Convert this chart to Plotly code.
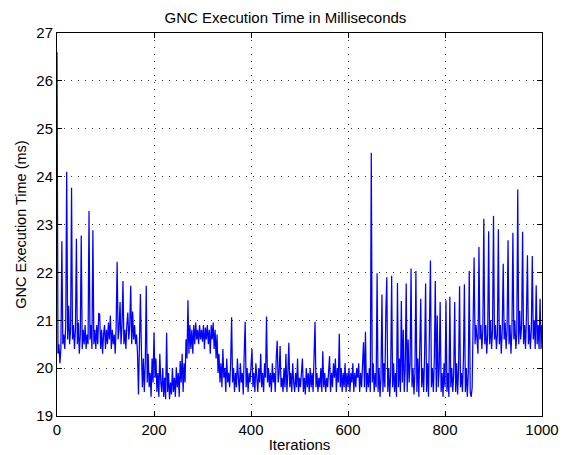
import plotly.graph_objects as go

iterations = list(range(0, 1001, 2))

exec_ms = [
    26.6, 20.3, 20.5, 20.1, 20.4, 22.65, 20.5, 20.7, 20.4, 20.9, 24.1, 20.6, 21.3, 20.5, 20.8, 23.77, 20.6, 20.9, 20.4, 20.8,
    22.7, 20.5, 20.95, 20.3, 20.7, 22.77, 20.4, 20.8, 20.5, 20.9, 20.4, 20.7, 20.5, 23.28, 20.6, 20.9, 20.4, 22.88, 20.5, 20.8,
    20.4, 20.9, 20.5, 21.14, 21.13, 20.4, 20.8, 20.3, 20.7, 20.9, 20.4, 20.8, 20.5, 20.95, 20.6, 21.1, 20.4, 20.8, 20.5, 20.7,
    20.3, 20.9, 22.22, 20.6, 20.8, 21.38, 20.5, 20.9, 21.82, 20.5, 20.8, 20.4, 20.9, 21.16, 20.6, 20.9, 21.72, 20.5, 21.18, 20.6,
    20.9, 20.5, 20.7, 20.3, 19.45, 20.9, 21.55, 20.4, 19.6, 20.2, 19.5, 20.1, 21.72, 19.7, 20.3, 19.6, 19.9, 19.4, 20.2, 19.7,
    20.75, 19.8, 20.2, 19.5, 19.9, 19.4, 20.3, 19.7, 19.5, 20.0, 19.4, 19.8, 19.35, 20.74, 19.5, 19.9, 19.35, 19.7, 19.45, 20.0,
    19.5, 19.8, 19.4, 20.02, 19.6, 19.9, 19.4, 20.15, 19.7, 20.3, 19.5, 20.1, 19.7, 20.6, 20.2, 21.42, 20.3, 20.9, 20.4, 20.8,
    20.3, 20.9, 20.5, 20.95, 20.6, 20.8, 20.5, 20.9, 20.6, 20.8, 20.55, 20.9, 20.4, 20.85, 20.6, 20.9, 20.5, 20.8, 20.3, 20.9,
    20.6, 20.95, 20.4, 20.8, 20.2, 20.7, 19.9, 20.3, 19.7, 20.1, 19.6, 20.4, 19.8, 20.0, 19.5, 20.2, 19.7, 19.9, 19.6, 20.1,
    21.06, 19.7, 20.0, 19.5, 19.9, 19.6, 20.2, 19.8, 19.5, 20.1, 19.7, 19.9, 19.45, 20.3, 20.97, 19.6, 20.0, 19.5, 19.9, 19.7,
    20.2, 20.4, 19.6, 19.9, 19.5, 20.1, 19.8, 19.5, 20.0, 19.7, 20.3, 19.6, 19.9, 19.5, 20.1, 19.8, 21.08, 19.7, 20.0, 19.6,
    19.9, 19.5, 20.1, 19.7, 19.9, 19.5, 20.2, 20.57, 19.7, 19.9, 20.46, 19.6, 19.8, 19.5, 20.0, 19.6, 20.3, 19.5, 19.9, 20.53,
    19.6, 19.9, 19.5, 20.1, 19.7, 19.5, 19.9, 19.6, 20.2, 19.5, 19.8, 19.6, 19.9, 20.2, 19.5, 19.8, 19.45, 20.0, 19.6, 19.9,
    19.5, 20.0, 19.6, 19.9, 19.5, 20.1, 20.97, 19.6, 19.9, 19.5, 19.8, 19.6, 20.0, 19.5, 20.35, 19.6, 19.9, 19.5, 19.8, 19.6,
    19.9, 20.25, 19.5, 19.9, 19.6, 20.1, 19.8, 20.2, 19.5, 20.0, 19.7, 20.72, 19.6, 20.0, 19.5, 19.9, 19.6, 20.1, 19.5, 19.9,
    19.6, 20.0, 19.5, 19.9, 19.7, 20.1, 19.5, 19.9, 19.6, 20.0, 19.8, 20.1, 19.5, 19.9, 19.6, 20.2, 20.54, 19.6, 20.76, 19.5,
    19.9, 19.6, 20.0, 19.5, 24.5, 19.7, 20.1, 19.5, 19.9, 19.6, 21.98, 19.5, 20.0, 19.4, 19.8, 21.54, 19.5, 20.1, 19.6, 21.16,
    21.9, 19.5, 20.0, 19.4, 19.9, 21.93, 19.6, 20.1, 19.5, 19.9, 19.4, 21.78, 19.6, 20.2, 19.5, 21.4, 19.7, 20.8, 19.5, 20.0,
    21.77, 19.5, 20.6, 19.7, 20.1, 22.08, 19.6, 20.0, 19.45, 19.9, 22.03, 19.5, 20.2, 19.4, 20.4, 21.45, 19.6, 20.0, 19.5, 20.3,
    21.77, 19.5, 20.1, 19.4, 20.9, 22.25, 19.6, 20.0, 19.5, 20.2, 21.82, 19.5, 21.1, 19.6, 20.0, 21.38, 19.5, 19.9, 19.4, 20.1,
    19.6, 21.42, 19.5, 19.9, 19.4, 21.49, 19.6, 20.0, 19.5, 19.9, 21.38, 19.5, 20.1, 19.45, 20.0, 21.71, 19.6, 19.9, 19.5, 20.2,
    21.75, 19.5, 20.0, 19.4, 19.9, 22.03, 19.5, 19.4, 19.6, 20.8, 22.31, 20.5, 20.9, 20.6, 20.3, 22.53, 20.6, 20.9, 20.4, 20.8,
    23.12, 20.5, 20.9, 20.3, 20.7, 22.86, 20.5, 21.0, 20.4, 20.8, 23.18, 20.6, 20.9, 20.4, 20.7, 22.9, 20.5, 20.9, 20.3, 20.8,
    22.18, 20.6, 20.95, 20.4, 20.8, 22.67, 20.5, 20.9, 20.3, 20.8, 22.83, 20.6, 21.0, 20.4, 20.7, 23.73, 20.5, 21.2, 20.6, 20.9,
    22.85, 20.5, 20.9, 20.4, 21.1, 22.36, 20.5, 20.9, 20.4, 20.8, 22.34, 20.6, 21.0, 20.4, 21.73, 20.5, 20.9, 20.4, 21.45, 20.4,
    20.9,
]

x_ticks = [0, 200, 400, 600, 800, 1000]
y_ticks = [19, 20, 21, 22, 23, 24, 25, 26, 27]

font_family = "Liberation Sans, Arial, Helvetica, sans-serif"

fig = go.Figure()
fig.add_trace(go.Scatter(
    x=iterations, y=exec_ms, mode="lines",
    line=dict(color="#0000FF", width=1.25),
    showlegend=False, hoverinfo="skip",
))

axis_common = dict(
    showline=True, linecolor="black", linewidth=1, mirror="ticks",
    ticks="inside", ticklen=5, tickcolor="black", tickwidth=1,
    showgrid=True, gridcolor="#333333", griddash="1px,6px", gridwidth=1,
    zeroline=False, automargin=False,
    tickfont=dict(family=font_family, size=15, color="black"),
)

fig.update_layout(
    width=565, height=455,
    margin=dict(l=57, r=23, t=33, b=39),
    paper_bgcolor="white", plot_bgcolor="white",
    title=dict(text="GNC Execution Time in Milliseconds", x=285.5 / 565, xanchor="center",
               y=1 - 17.5 / 455, yanchor="middle",
               font=dict(family=font_family, size=15, color="black")),
    xaxis=dict(range=[0, 1000], tickvals=x_ticks,
               title=dict(text="Iterations", standoff=2,
                          font=dict(family=font_family, size=15, color="black")),
               **axis_common),
    yaxis=dict(range=[19, 27], tickvals=y_ticks,
               title=dict(text="GNC Execution Time (ms)", standoff=6,
                          font=dict(family=font_family, size=14.5, color="black")),
               **axis_common),
)

fig.write_html("out.html")
